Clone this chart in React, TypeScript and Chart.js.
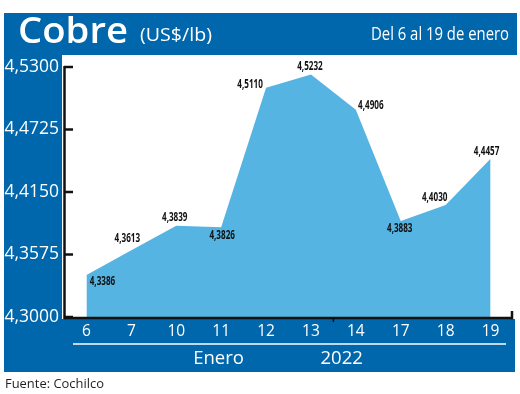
import React, { useEffect, useRef } from "react";
import { Chart, registerables } from "chart.js";

Chart.register(...registerables);

// ---- data ----
const categories = ["6", "7", "10", "11", "12", "13", "14", "17", "18", "19"];
const prices = [4.3386, 4.3613, 4.3839, 4.3826, 4.511, 4.5232, 4.4906, 4.3883, 4.403, 4.4457];
const yTicks = [4.3, 4.3575, 4.415, 4.4725, 4.53];
const titleText = "Cobre";
const unitText = "(US$/lb)";
const periodText = "Del 6 al 19 de enero";
const monthLabel = "Enero";
const yearLabel = "2022";
const sourceText = "Fuente: Cochilco";

// ---- styles ----
const BLUE = "#0067ac";
const AREA = "#56b4e3";
const FONT = "'Open Sans', 'Noto Sans', sans-serif";
const labelOffsets: [number, number][] = [
  [16, 7], [-4, -12], [-1.5, -8.5], [1, 8.5], [-16, -3],
  [-1, -8], [15, -4], [-1, 8], [-11, -7], [-4, -7],
];

const fmt = (v: number) => v.toFixed(4).replace(".", ",");

function drawText(
  ctx: CanvasRenderingContext2D,
  text: string,
  x: number,
  y: number,
  font: string,
  color: string,
  align: "left" | "right" | "center",
  targetWidth?: number,
  spacing = false,
  baseline: CanvasTextBaseline = "alphabetic"
) {
  ctx.save();
  ctx.font = font;
  ctx.fillStyle = color;
  ctx.textBaseline = baseline;
  ctx.textAlign = "left";
  let w = ctx.measureText(text).width;
  let sx = 1;
  if (targetWidth) {
    if (spacing && text.length > 1) {
      const ls = (targetWidth - w) / (text.length - 1);
      (ctx as any).letterSpacing = ls + "px";
    } else {
      sx = targetWidth / w;
    }
    w = targetWidth;
  }
  const left = align === "left" ? x : align === "right" ? x - w : x - w / 2;
  ctx.translate(left, y);
  ctx.scale(sx, 1);
  ctx.fillText(text, 0, 0);
  ctx.restore();
}

const framePlugin = {
  id: "frame",
  beforeDraw(chart: any) {
    const ctx: CanvasRenderingContext2D = chart.ctx;
    ctx.save();
    ctx.fillStyle = "#ffffff";
    ctx.fillRect(0, 0, chart.width, chart.height);
    ctx.fillStyle = BLUE;
    ctx.fillRect(4, 13, 513, 42);
    ctx.fillRect(4, 55, 58, 317);
    ctx.fillRect(4, 319, 511, 53);
    ctx.restore();

    drawText(ctx, titleText, 18, 43, `600 36px ${FONT}`, "#fff", "left", 110);
    drawText(ctx, unitText, 140, 41, `18px ${FONT}`, "#fff", "left", 72);
    drawText(ctx, periodText, 509, 40, `19px ${FONT}`, "#fff", "right", 138);

    // bottom band
    ctx.save();
    ctx.strokeStyle = "#ffffff";
    ctx.lineWidth = 1.5;
    ctx.beginPath();
    ctx.moveTo(73, 344);
    ctx.lineTo(506, 344);
    ctx.stroke();
    ctx.restore();
    drawText(ctx, monthLabel, 218.5, 364, `18.5px ${FONT}`, "#fff", "center");
    drawText(ctx, yearLabel, 341.7, 364, `18.5px ${FONT}`, "#fff", "center");
    drawText(ctx, sourceText, 5, 387.5, `13.5px ${FONT}`, "#231f20", "left", 99);
  },
  afterDatasetsDraw(chart: any) {
    const ctx: CanvasRenderingContext2D = chart.ctx;
    const { left, right, top, bottom } = chart.chartArea;
    const ys = chart.scales.y;
    const xs = chart.scales.x;
    ctx.save();
    ctx.strokeStyle = "#111111";
    ctx.lineWidth = 2.5;
    ctx.lineCap = "butt";
    ctx.beginPath();
    ctx.moveTo(left + 0.5, top - 1);
    ctx.lineTo(left + 0.5, bottom + 2.2);
    ctx.stroke();
    ys.ticks.forEach((t: any) => {
      const y = ys.getPixelForValue(t.value);
      ctx.beginPath();
      ctx.moveTo(left, y);
      ctx.lineTo(left + 9, y);
      ctx.stroke();
    });
    ctx.beginPath();
    ctx.moveTo(left, bottom + 1);
    ctx.lineTo(right, bottom + 1);
    ctx.stroke();
    ctx.beginPath();
    ctx.moveTo(right - 1, bottom + 2.2);
    ctx.lineTo(right - 1, bottom - 6);
    ctx.stroke();
    const mx = (xs.getPixelForValue(5) + xs.getPixelForValue(6)) / 2;
    ctx.lineWidth = 1.5;
    ctx.beginPath();
    ctx.moveTo(mx, bottom + 1);
    ctx.lineTo(mx, bottom + 5);
    ctx.stroke();
    ctx.restore();

    const meta = chart.getDatasetMeta(0);
    meta.data.forEach((pt: any, i: number) => {
      const [dx, dy] = labelOffsets[i];
      drawText(ctx, fmt(prices[i]), pt.x + dx, pt.y + dy, `700 11.5px ${FONT}`, "#111", "center", 25.5, false, "middle");
    });
  },
};

export default function App() {
  const ref = useRef<HTMLCanvasElement | null>(null);
  useEffect(() => {
    if (!ref.current) return;
    const chart = new Chart(ref.current, {
      type: "line",
      data: {
        labels: categories,
        datasets: [
          {
            data: prices,
            fill: "start",
            backgroundColor: AREA,
            borderWidth: 0,
            borderColor: AREA,
            pointRadius: 0,
            tension: 0,
          },
        ],
      },
      options: {
        responsive: false,
        animation: false,
        devicePixelRatio: 1,
        layout: { padding: { left: 4, right: 7, top: 67, bottom: 22 } },
        plugins: {
          legend: { display: false },
          tooltip: { enabled: false },
          title: { display: false },
        },
        scales: {
          x: {
            type: "category",
            offset: true,
            grid: { display: false, drawTicks: false },
            border: { display: false },
            ticks: {
              color: "#ffffff",
              font: { family: FONT, size: 15.5 },
              padding: 5,
              maxRotation: 0,
              autoSkip: false,
            },
            afterFit: (s: any) => {
              s.height = 55;
            },
          },
          y: {
            min: 4.3,
            max: 4.53,
            grid: { display: false, drawTicks: false },
            border: { display: false },
            afterBuildTicks: (s: any) => {
              s.ticks = yTicks.map((v) => ({ value: v }));
            },
            ticks: {
              color: "#ffffff",
              font: { family: FONT, size: 17.5 },
              padding: 5,
              callback: (v: any) => fmt(Number(v)),
            },
            afterFit: (s: any) => {
              s.width = 60;
            },
          },
        },
      } as any,
      plugins: [framePlugin],
    });
    return () => chart.destroy();
  }, []);
  return (
    <div style={{ position: "fixed", left: 0, top: 0, width: 520, height: 394 }}>
      <canvas ref={ref} width={520} height={394} style={{ display: "block" }} />
    </div>
  );
}
